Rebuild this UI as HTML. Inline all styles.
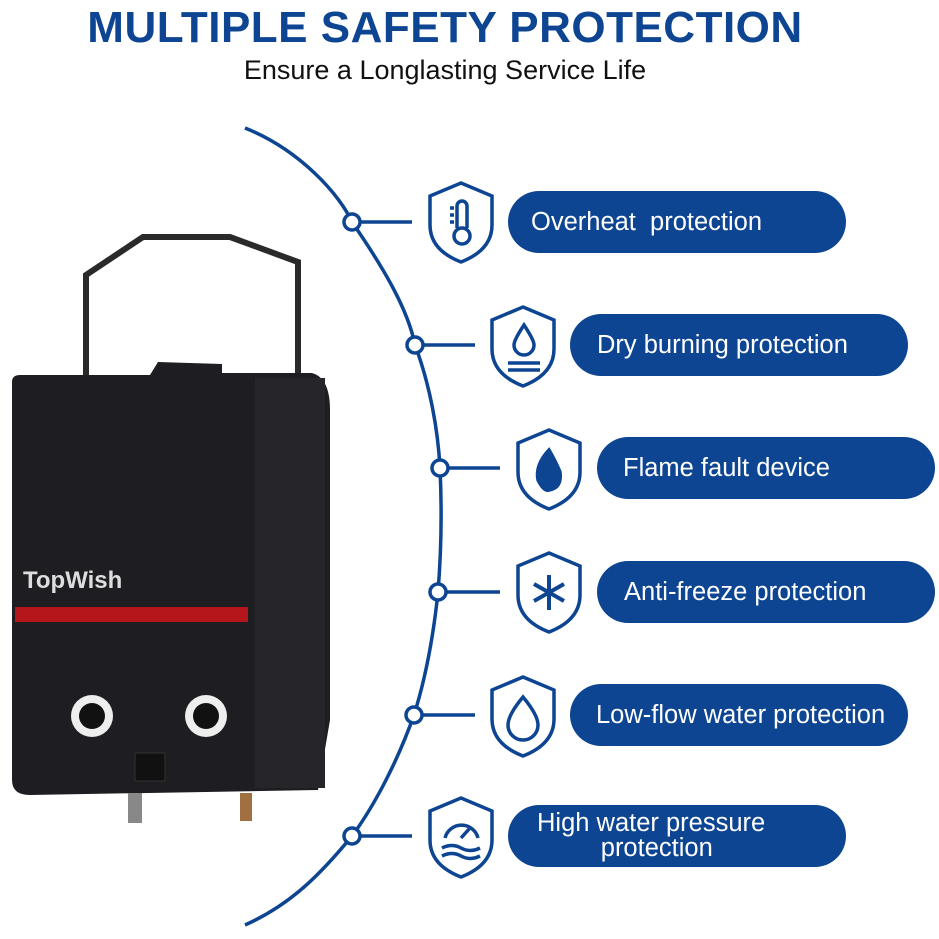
<!DOCTYPE html>
<html><head><style>
body{margin:0;background:#fff;width:939px;height:939px;overflow:hidden;position:relative;font-family:"Liberation Sans",sans-serif}
.t{position:absolute;left:0;width:890px;text-align:center;top:3px;font-weight:bold;font-size:44px;color:#0d4592;letter-spacing:0.5px}
.s{position:absolute;left:0;width:890px;text-align:center;top:55px;font-size:27px;color:#111}
.p{position:absolute;height:62px;width:338px;border-radius:31px;background:#0d4592;color:#fff;font-size:25.5px;display:flex;align-items:center;box-sizing:border-box;padding-left:23px;line-height:25px;white-space:pre}
</style></head><body>
<div class="t">MULTIPLE SAFETY PROTECTION</div>
<div class="s">Ensure a Longlasting Service Life</div>
<svg width="939" height="939" style="position:absolute;left:0;top:0">
<g fill="none" stroke="#0d4592" stroke-width="3.5">
<path d="M245,128 C300,150 340,195 352,222 C385,270 408,310 415,345 C430,385 438,430 440,468 C442,510 441,555 438,592 C433,640 425,680 414,715 C398,760 375,805 352,836 C320,875 290,905 245,925"/>
<line x1="352" y1="222" x2="412" y2="222"/><line x1="415" y1="345" x2="475" y2="345"/>
<line x1="440" y1="468" x2="500" y2="468"/><line x1="438" y1="592" x2="500" y2="592"/>
<line x1="414" y1="715" x2="475" y2="715"/><line x1="352" y1="836" x2="412" y2="836"/>
</g>
<g fill="#fff" stroke="#0d4592" stroke-width="3.5">
<circle cx="352" cy="222" r="8"/><circle cx="415" cy="345" r="8"/><circle cx="440" cy="468" r="8"/>
<circle cx="438" cy="592" r="8"/><circle cx="414" cy="715" r="8"/><circle cx="352" cy="836" r="8"/>
</g>
<g fill="none" stroke="#0d4592" stroke-width="3.5">
<path d="M461,183 L492,196 L492,225 Q492,250 461,262 Q430,250 430,225 L430,196 Z"/>
<path d="M523,307 L554,320 L554,349 Q554,374 523,386 Q492,374 492,349 L492,320 Z"/>
<path d="M549,430 L580,443 L580,472 Q580,497 549,509 Q518,497 518,472 L518,443 Z"/>
<path d="M549,553 L580,566 L580,595 Q580,620 549,632 Q518,620 518,595 L518,566 Z"/>
<path d="M523,677 L554,690 L554,719 Q554,744 523,756 Q492,744 492,719 L492,690 Z"/>
<path d="M461,798 L492,811 L492,840 Q492,865 461,877 Q430,865 430,840 L430,811 Z"/>
<circle cx="462" cy="236" r="8"/><path d="M457,228 V206 A5,5 0 0 1 467,206 V228"/><line x1="450" y1="208" x2="454" y2="208"/><line x1="450" y1="215" x2="454" y2="215"/><line x1="450" y1="222" x2="454" y2="222"/>
<path d="M524,325 Q514,340 514,345 A10,10 0 0 0 534,345 Q534,340 524,325Z"/><line x1="508" y1="363" x2="540" y2="363"/><line x1="508" y1="370" x2="540" y2="370"/>
<path d="M549,450 Q535,465 538,480 Q544,492 549,490 Q562,488 560,472 Q556,462 549,450Z" fill="#0d4592"/>
<path d="M549,575 V610 M534,584 L564,601 M564,584 L534,601" stroke-width="4"/>
<path d="M523,697 Q508,715 508,725 A15,15 0 0 0 538,725 Q538,715 523,697Z"/>
<path d="M445,838 A17,17 0 0 1 478,838 M461,838 L470,828 M442,848 Q452,843 461,848 T480,848 M442,856 Q452,851 461,856 T480,856"/>
</g>
<path d="M86,375 L86,275 L143,237 L230,237 L298,262 L298,378" fill="none" stroke="#2a2a2a" stroke-width="6"/>
<path d="M12,382 Q12,375 20,375 L150,375 L158,362 L222,364 L222,373 L312,373 Q330,378 330,410 L330,720 L318,790 L30,795 Q12,795 12,780 Z" fill="#1e1e22"/>
<rect x="255" y="378" width="70" height="410" fill="#26262a"/>
<text x="23" y="588" font-family="Liberation Sans" font-size="24" fill="#ddd" font-weight="bold">TopWish</text>
<rect x="15" y="607" width="233" height="15" fill="#b5161c"/>
<circle cx="92" cy="716" r="21" fill="#eee"/><circle cx="92" cy="716" r="13" fill="#111"/>
<circle cx="206" cy="716" r="21" fill="#eee"/><circle cx="206" cy="716" r="13" fill="#111"/>
<rect x="135" y="753" width="30" height="28" fill="#111" stroke="#333"/>
<rect x="128" y="793" width="14" height="30" fill="#888"/><rect x="240" y="793" width="12" height="28" fill="#a07040"/>
</svg>
<div class="p" style="left:508px;top:191px">Overheat  protection</div>
<div class="p" style="left:570px;top:314px;padding-left:27px">Dry burning protection</div>
<div class="p" style="left:597px;top:437px;padding-left:26px">Flame fault device</div>
<div class="p" style="left:597px;top:561px;padding-left:27px">Anti-freeze protection</div>
<div class="p" style="left:570px;top:684px;padding-left:26px">Low-flow water protection</div>
<div class="p" style="left:508px;top:805px;padding-left:29px">High water pressure
         protection</div>
</body></html>
